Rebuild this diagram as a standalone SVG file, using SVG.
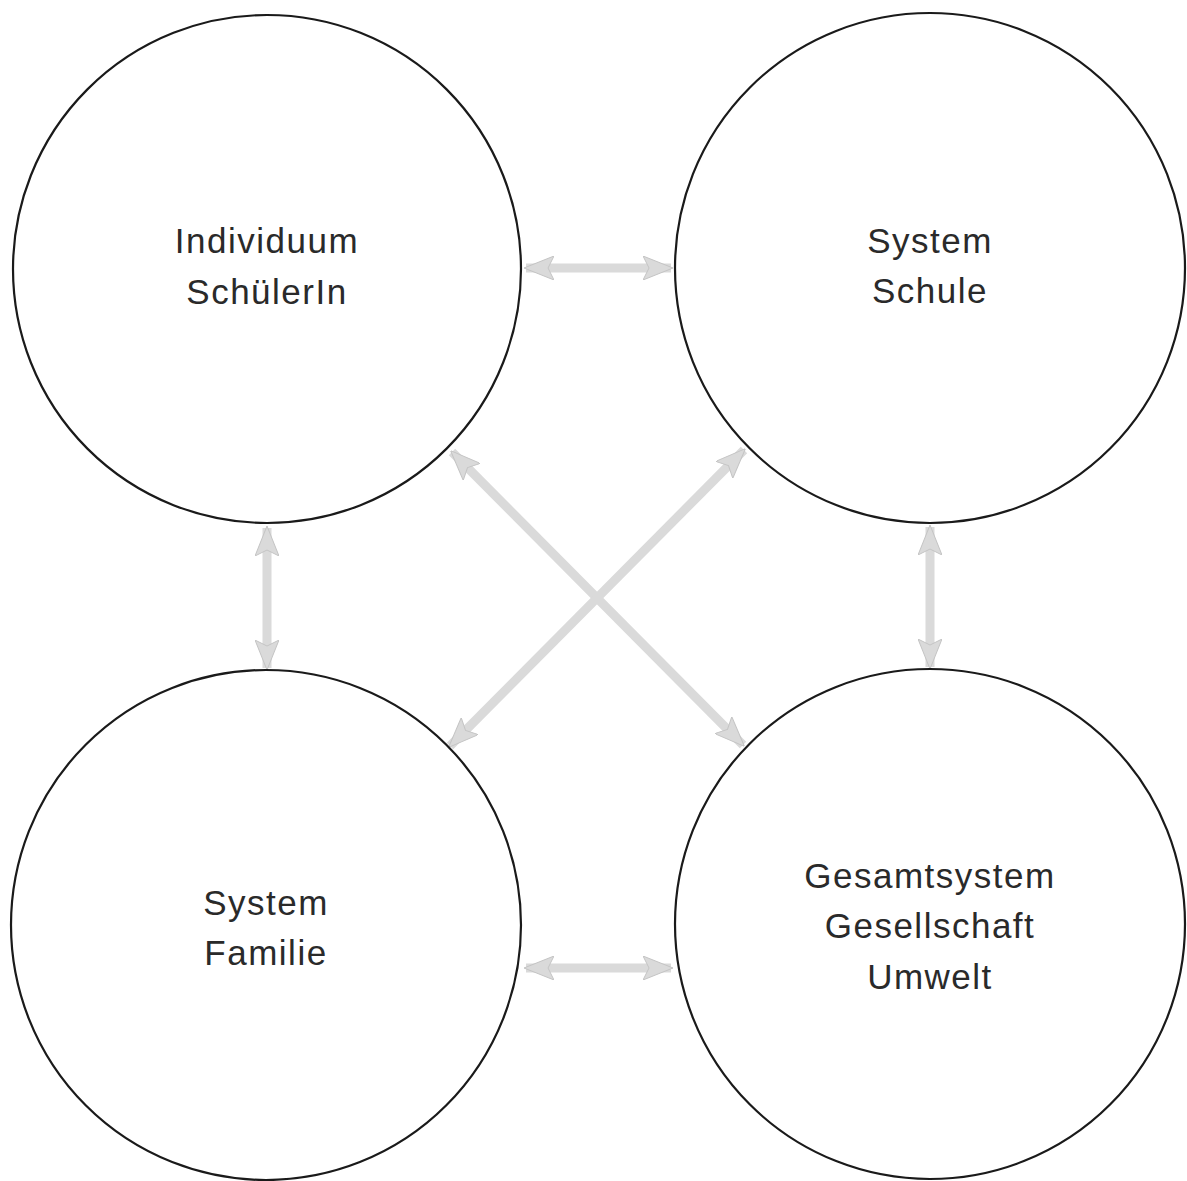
<svg xmlns="http://www.w3.org/2000/svg" width="1187" height="1181" viewBox="0 0 1187 1181">
<style>
.node{fill:#fff;stroke:#1a1a1a;stroke-width:2.2}
.lbl{font-family:"Liberation Sans",Arial,sans-serif;font-size:35px;letter-spacing:1.5px;fill:#2a2a2a;text-anchor:middle}
.con{stroke:#dadada;stroke-width:9;fill:none;stroke-linecap:butt}
</style>
<defs>
<marker id="ah" viewBox="0 0 30 24" refX="28" refY="12" markerWidth="30" markerHeight="24" markerUnits="userSpaceOnUse" orient="auto-start-reverse">
<path d="M0,0 L30,12 L0,24 L6,12 Z" fill="#dadada" stroke="#c4c4c4" stroke-width="1"/>
</marker>
</defs>
<rect width="1187" height="1181" fill="#fff"/>
<g id="connectors">
<line class="con" x1="526" y1="268" x2="671" y2="268" marker-start="url(#ah)" marker-end="url(#ah)"/>
<line class="con" x1="526" y1="968" x2="671" y2="968" marker-start="url(#ah)" marker-end="url(#ah)"/>
<line class="con" x1="267" y1="528" x2="267" y2="668" marker-start="url(#ah)" marker-end="url(#ah)"/>
<line class="con" x1="930" y1="527" x2="930" y2="667" marker-start="url(#ah)" marker-end="url(#ah)"/>
<line class="con" x1="452" y1="452" x2="743" y2="745" marker-start="url(#ah)" marker-end="url(#ah)"/>
<line class="con" x1="744" y1="450" x2="450" y2="746" marker-start="url(#ah)" marker-end="url(#ah)"/>
</g>
<g id="individuum">
<circle class="node" cx="267" cy="269" r="254"/>
<text class="lbl" x="267" y="253">Individuum</text>
<text class="lbl" x="267" y="304">SchülerIn</text>
</g>
<g id="schule">
<circle class="node" cx="930" cy="268" r="255"/>
<text class="lbl" x="930" y="253">System</text>
<text class="lbl" x="930" y="303">Schule</text>
</g>
<g id="familie">
<circle class="node" cx="266" cy="925" r="255"/>
<text class="lbl" x="266" y="915">System</text>
<text class="lbl" x="266" y="965">Familie</text>
</g>
<g id="gesamtsystem">
<circle class="node" cx="930" cy="924" r="255"/>
<text class="lbl" x="930" y="888">Gesamtsystem</text>
<text class="lbl" x="930" y="938">Gesellschaft</text>
<text class="lbl" x="930" y="989">Umwelt</text>
</g>
</svg>
